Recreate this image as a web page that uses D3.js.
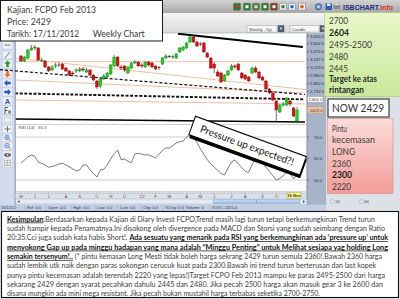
<!DOCTYPE html>
<html>
<head>
<meta charset="utf-8">
<title>FCPO Feb 2013 - Weekly</title>
<script src="https://cdn.jsdelivr.net/npm/d3@7/dist/d3.min.js"></script>
<style>
  html, body { margin: 0; padding: 0; background: #dde1e7; overflow: hidden; }
  svg { display: block; }
</style>
</head>
<body>
<svg id="chart" width="400" height="299"></svg>
<script>
// ---------- data ----------
// Weekly bars, the last one is the week ending 16 Nov 2012
const lastWeek = new Date(2012, 10, 16);

const opens  = [3308,3226,3275,3405,3438,3438,3226,3226,3129,3080,3145,3161,3177,3112,3064,3031,3064,3064,3096,3047,
                3080,2998,2901,2819,2933,2966,3015,3145,3291,3129,3145,3031,3112,3194,3210,3161,3129,3210,3194,3145,
                3110,3177,3275,3300,3291,3275,3373,3405,3438,3535,3617,3535,3503,3519,3356,3275,3177,3047,3031,2901,
                2998,3080,3145,3177,3031,2998,2966,3031,3112,3047,2966,2901,2771,2706,2575,2396,2510,2510,2575,2462,2250];
const highs  = [3324,3308,3421,3487,3487,3454,3275,3243,3145,3161,3194,3194,3194,3129,3080,3064,3112,3129,3129,3112,
                3096,3015,2917,2950,3015,3047,3177,3324,3308,3161,3161,3145,3210,3243,3226,3194,3226,3226,3210,3161,
                3145,3291,3340,3324,3324,3356,3454,3470,3535,3649,3649,3552,3535,3535,3373,3291,3210,3080,3047,3015,
                3080,3177,3177,3194,3047,3015,2982,3129,3145,3064,2982,2917,2787,2738,2592,2527,2559,2641,2592,2478,2478];
const lows   = [3210,3210,3259,3389,3405,3226,3210,3112,3047,3064,3112,3129,3080,3047,2982,2982,3031,3047,3047,3031,
                2982,2901,2771,2787,2917,2950,2998,3129,3129,3080,3047,3015,3096,3177,3129,3112,3112,3145,3112,3080,
                3080,3161,3259,3275,3259,3259,3356,3389,3421,3519,3519,3454,3470,3356,3275,3096,3031,2966,2868,2885,
                2982,3064,3096,3064,2933,2917,2885,3015,3031,2933,2901,2754,2690,2575,2234,2380,2478,2494,2494,2315,2218];
const closes = [3226,3291,3405,3438,3454,3243,3243,3129,3064,3129,3161,3150,3096,3064,2998,3015,3080,3096,3080,3080,
                2998,2917,2803,2933,2982,3031,3161,3291,3145,3112,3080,3129,3194,3210,3145,3145,3210,3161,3129,3096,
                3120,3275,3308,3291,3295,3340,3438,3454,3519,3617,3535,3470,3499,3373,3291,3112,3112,2982,2885,2998,
                3064,3145,3129,3080,2950,2933,2901,3112,3047,2950,2917,2771,2706,2592,2429,2510,2527,2624,2527,2331,2429];
const rsi14  = [45.8,48.5,51.5,53.3,52,46.7,45.4,44,42,42.5,43.6,44.8,45.6,44,42.3,40.2,38.6,39.3,44,44,
                39.5,36,32.8,39.3,40,44,49.5,54.5,57.9,49,49.4,47.5,46,54.2,54.8,54,53.3,53.3,52,50.5,
                54,57.5,59.8,59.8,62,64.5,65.5,66.3,70,71.9,69,65,59,54,49,45,42,39,36,34.7,
                41,46.7,48.6,45,41.5,38,37,44.5,50,48.5,45.8,42,38,34,30,31.5,34,37.4,36,31,35.3];

const priceTicks = [3633, 3504.5, 3376, 3247.5, 3119, 2990.5, 2862, 2733.5];
const rsiTicks   = [70, 50, 30];
const monthLetters = ["J","F","M","A","M","J","J","A","S","O","N","D"];

const lastPrice  = 2429;
const markedLine = 2602;

// drawn studies: [barIndex, price] end points
const topTrend     = [[45.5, 3670], [81.7, 3454]];
const bottomTrend  = [[-1.7, 2283], [82.3, 2234]];
const dashedTrends = [[[-6.1, 3085], [82.3, 2681]]];
const dashedLevel  = [[-1.7, 2700], [82.3, markedLine]];
const fanLines     = [
  [[-1.7, 3215], [82.3, 3215]],
  [[-1.7, 3275], [83.8, 2754]],
  [[-1.7, 2917], [82.3, 2706]],
  [[-1.7, 2592], [82.3, 2527]]
];

const resistanceLevels = ["2700", "2604", "2495-2500", "2480", "2445"];
const supportLevels    = ["2360", "2300", "2220"];

const noteLines = [
  [["b","Kesimpulan"],["n",":Berdasarkan kepada Kajian di Diary Invest FCPO,Trend masih lagi turun tetapi berkemungkinan Trend turun"]],
  [["n","sudah hampir kepada Penamatnya.Ini disokong oleh divergence pada MACD dan Storsi yang sudah seimbang dengan Ratio"]],
  [["n","20:35.Cci juga sudah kata habis Short!. "],["b","Ada sesuatu yang menarik pada RSI yang berkemungkinan ada \u2018pressure up\u2019 untuk"]],
  [["b","menyokong Gap up pada minggu hadapan yang mana adalah \u201cMinggu Penting\u201d untuk Melihat sesiapa yag holding Long"]],
  [["b","semakin tersenyum!.."],["n"," (* pintu kemasan Long Mesti tidak boleh harga sekrang 2429 turun semula 2360!.Bawah 2360 harga"]],
  [["n","sudah lembik utk naik dengan paras sokongan cerucuk kuat pada 2300.Bawah ini trend turun berterusan dan last kopek"]],
  [["n","punya pintu kecemasan adalah terendah 2220 yang lepas!)Target FCPO Feb 2013 mampu ke paras 2495-2500 dari harga"]],
  [["n","sekarang 2429 dengan syarat pecahkan dahulu 2445 dan 2480. Jika pecah 2500 harga akan masuk gear 3 ke 2600 dan"]],
  [["n","disana mungkin ada mini mega resistant. Jika pecah bukan mustahil harga terbabas seketika 2700-2750."]]
];
const noteLineEnds = [375, 385, 388, 388, 382, 376, 385, 383, 320];

const statusItems = [["16/11/12",1],["Ref: 0.0",27],["Open: 0.0",48],["High: 0.0",73],["Low: 0.0",97],
                     ["Last: 0.0",120],["Chg: 0.0",143],["%Chg: 0.0",165],["Volume: 0",186],["TOI/C: 2455.0",212]];

// ---------- helpers ----------
const svg = d3.select("#chart");
const UI = "'Liberation Sans', Arial, sans-serif";
const CAL = "Lato, 'Open Sans', sans-serif";
function fit(sel, w) { return sel.attr("textLength", w).attr("lengthAdjust", "spacingAndGlyphs"); }

const n = closes.length;
const dates = d3.range(n).map(i => d3.timeWeek.offset(lastWeek, i - (n - 1)));

// ---------- scales ----------
const x = d3.scaleLinear().domain([0, n - 1]).range([21, 297]);
const y = d3.scaleLinear().domain([2429, 3633]).range([110, 36]);
const yr = d3.scaleLinear().domain([30, 70]).range([180, 137]);

const defs = svg.append("defs");
function vgrad(id, a, b) {
  const g = defs.append("linearGradient").attr("id", id).attr("x1", 0).attr("y1", 0).attr("x2", 0).attr("y2", 1);
  g.append("stop").attr("offset", "0%").attr("stop-color", a);
  g.append("stop").attr("offset", "100%").attr("stop-color", b);
}
vgrad("topbar", "#d2d2d2", "#a8a8a8");
vgrad("row2", "#f4f4f4", "#dadada");
vgrad("greenbox", "#e9f8cc", "#c9e89a");
vgrad("pinkbox", "#fcdcda", "#f29c98");
vgrad("thumb", "#c9dcf4", "#9dbbe6");
defs.append("clipPath").attr("id", "pclip").append("rect").attr("x", 15.5).attr("y", 33).attr("width", 291.5).attr("height", 91);
defs.append("clipPath").attr("id", "rclip").append("rect").attr("x", 15.5).attr("y", 124.5).attr("width", 291.5).attr("height", 66.5);

// ---------- window chrome ----------
svg.append("rect").attr("width", 400).attr("height", 299).attr("fill", "#dde1e7");
svg.append("rect").attr("x", 0).attr("y", 0).attr("width", 400).attr("height", 13).attr("fill", "url(#topbar)");
svg.append("rect").attr("x", 0).attr("y", 13).attr("width", 400).attr("height", 20).attr("fill", "url(#row2)");

// toolbar icons
const icons = [[237,"#2f7a34","#d32f2f"],[247,"#2f7a34","#ffffff"],[256,"#55803a","#c8e6c9"],[265,"#2f7a34","#ffffff"],
               [274,"#8a3d1f","#ffffff"],[283,"#e6eef8","#2e7d32"],[292,"#e6eef8","#1565c0"],[302,"#e6eef8","#e65100"]];
icons.forEach(([cx, bg, fg]) => {
  svg.append("rect").attr("x", cx - 3.5).attr("y", 3.2).attr("width", 7).attr("height", 7).attr("rx", 1)
    .attr("fill", bg).attr("stroke", "#555").attr("stroke-width", 0.4);
  svg.append("rect").attr("x", cx - 1.5).attr("y", 5.2).attr("width", 3).attr("height", 3).attr("fill", fg);
});
svg.append("circle").attr("cx", 318.5).attr("cy", 6.7).attr("r", 3.2).attr("fill", "#5b8fd6").attr("stroke", "#2a4f8f").attr("stroke-width", 0.6);
svg.append("circle").attr("cx", 318.5).attr("cy", 6.7).attr("r", 1.2).attr("fill", "#e8f0fb");
svg.append("rect").attr("x", 325.5).attr("y", 3.4).attr("width", 6.5).attr("height", 6.6).attr("fill", "#2b5fb8");
svg.append("rect").attr("x", 327).attr("y", 3.6).attr("width", 3.5).attr("height", 2.4).attr("fill", "#e8eef8");
svg.append("rect").attr("x", 333.5).attr("y", 5).attr("width", 6.5).attr("height", 4).attr("fill", "#8a8a8a");
svg.append("rect").attr("x", 335).attr("y", 3.3).attr("width", 3.5).attr("height", 2).attr("fill", "#f4f4f4").attr("stroke", "#777").attr("stroke-width", 0.3);
const logo = svg.append("text").attr("x", 343).attr("y", 9.6).attr("font-family", UI).attr("font-size", 6.4).attr("font-weight", 700);
logo.append("tspan").attr("fill", "#1d2f8a").text("ISBCHART");
logo.append("tspan").attr("fill", "#d8321e").text(".info");
fit(logo, 50);

// period / style selectors
function dropdown(x0, w, label) {
  svg.append("rect").attr("x", x0).attr("y", 25.5).attr("width", w).attr("height", 6.5)
    .attr("fill", "#f7f7f7").attr("stroke", "#a0a0a0").attr("stroke-width", 0.5);
  svg.append("text").attr("x", x0 + 2).attr("y", 30.5).attr("font-family", UI).attr("font-size", 4.2)
    .attr("fill", "#444").text(label);
  svg.append("rect").attr("x", x0 + w + 1).attr("y", 25.5).attr("width", 6).attr("height", 6.5)
    .attr("fill", "#56627a").attr("stroke", "#3a4458").attr("stroke-width", 0.4);
  svg.append("path").attr("d", `M${x0 + w + 2.6},27.8h2.8l-1.4,1.8z`).attr("fill", "#fff");
}
dropdown(247, 30, "Weekly - 5yr");
dropdown(290, 29, "Candle");

// ---------- chart panels ----------
svg.append("rect").attr("x", 15.5).attr("y", 33).attr("width", 291.5).attr("height", 160)
  .attr("fill", "#ffffff").attr("stroke", "#9aa6b8").attr("stroke-width", 0.6);
svg.append("line").attr("x1", 15.5).attr("x2", 307).attr("y1", 124.5).attr("y2", 124.5)
  .attr("stroke", "#c4c4c4").attr("stroke-width", 0.8);

// value axis column
svg.append("rect").attr("x", 307).attr("y", 33).attr("width", 19).attr("height", 172).attr("fill", "#a7b3c7");
svg.append("line").attr("x1", 307).attr("x2", 307).attr("y1", 33).attr("y2", 205).attr("stroke", "#6f7d96").attr("stroke-width", 0.6);

const gPrice = svg.append("g").attr("clip-path", "url(#pclip)");
const line = d3.line().x(d => x(d[0])).y(d => y(d[1]));

fanLines.forEach(l => gPrice.append("path").attr("d", line(l)).attr("fill", "none")
  .attr("stroke", "#e9b99c").attr("stroke-width", 0.9));
gPrice.append("path").attr("d", line(dashedLevel)).attr("fill", "none")
  .attr("stroke", "#111").attr("stroke-width", 1.9).attr("stroke-dasharray", "3,1.6");
gPrice.append("path").attr("d", line(topTrend)).attr("fill", "none").attr("stroke", "#000").attr("stroke-width", 1.9);
gPrice.append("path").attr("d", line(bottomTrend)).attr("fill", "none").attr("stroke", "#000").attr("stroke-width", 1.5);

// candles
const bars = d3.range(n).map(i => ({ i, o: opens[i], h: highs[i], l: lows[i], c: closes[i] }));
const cg = gPrice.selectAll("g.bar").data(bars).join("g").attr("class", "bar");
cg.append("line").attr("x1", d => x(d.i)).attr("x2", d => x(d.i))
  .attr("y1", d => y(d.h)).attr("y2", d => y(d.l)).attr("stroke", "#3a3a3a").attr("stroke-width", 0.7);
cg.each(function (d) {
  const g = d3.select(this);
  const top = y(Math.max(d.o, d.c)), bot = y(Math.min(d.o, d.c));
  if (bot - top < 0.7) {
    g.append("line").attr("x1", x(d.i) - 1.4).attr("x2", x(d.i) + 1.4).attr("y1", top).attr("y2", top)
      .attr("stroke", "#222").attr("stroke-width", 0.8);
  } else {
    const up = d.c > d.o;
    g.append("rect").attr("x", x(d.i) - 1.35).attr("y", top).attr("width", 2.7).attr("height", bot - top)
      .attr("fill", up ? "#1fd11f" : "#e10c0c").attr("stroke", up ? "#0f8a12" : "#8f0a0a").attr("stroke-width", 0.4);
  }
});

// the long dashed trend runs across the tool strip as well
const dashClip = defs.append("clipPath").attr("id", "dclip");
dashClip.append("rect").attr("x", 0).attr("y", 33).attr("width", 307).attr("height", 91);
dashedTrends.forEach(l => svg.append("path").attr("clip-path", "url(#dclip)").attr("d", line(l)).attr("fill", "none")
  .attr("stroke", "#111").attr("stroke-width", 1.2).attr("stroke-dasharray", "3,2"));

// price axis labels
priceTicks.forEach(v => {
  svg.append("line").attr("x1", 307).attr("x2", 309).attr("y1", y(v)).attr("y2", y(v)).attr("stroke", "#2a3550").attr("stroke-width", 0.5);
  svg.append("text").attr("x", 324).attr("y", y(v) + 1.5).attr("text-anchor", "end")
    .attr("font-family", UI).attr("font-size", 4.2).attr("fill", "#25304a").text(d3.format(",.1f")(v));
});
svg.append("rect").attr("x", 307.5).attr("y", y(markedLine) - 3).attr("width", 16).attr("height", 6)
  .attr("fill", "#ffffff").attr("stroke", "#7a7a7a").attr("stroke-width", 0.4);
svg.append("text").attr("x", 322.5).attr("y", y(markedLine) + 1.5).attr("text-anchor", "end")
  .attr("font-family", UI).attr("font-size", 4.2).attr("fill", "#333").text(d3.format(",.1f")(markedLine));
svg.append("rect").attr("x", 307.5).attr("y", y(lastPrice) - 3).attr("width", 16).attr("height", 6)
  .attr("fill", "#f6c6a4").attr("stroke", "#c98660").attr("stroke-width", 0.4);
svg.append("text").attr("x", 322.5).attr("y", y(lastPrice) + 1.5).attr("text-anchor", "end")
  .attr("font-family", UI).attr("font-size", 4.2).attr("fill", "#333").text(lastPrice.toFixed(1));

// ---------- RSI panel ----------
const gRsi = svg.append("g").attr("clip-path", "url(#rclip)");
[70, 30].forEach(v => gRsi.append("line").attr("x1", 15.5).attr("x2", 307).attr("y1", yr(v)).attr("y2", yr(v))
  .attr("stroke", "#cdcdcd").attr("stroke-width", 1.2));
gRsi.append("path").datum(rsi14).attr("fill", "none").attr("stroke", "#575757").attr("stroke-width", 0.8)
  .attr("d", d3.line().x((d, i) => x(i)).y(d => yr(d)));
svg.append("text").attr("x", 18.5).attr("y", 129).attr("font-family", UI).attr("font-size", 4.3).attr("fill", "#444").text("RSI (14)");
svg.append("text").attr("x", 38).attr("y", 129).attr("font-family", UI).attr("font-size", 4.3).attr("fill", "#444")
  .text(rsi14[n - 1].toFixed(1));
rsiTicks.forEach(v => {
  svg.append("line").attr("x1", 307).attr("x2", 309).attr("y1", yr(v)).attr("y2", yr(v)).attr("stroke", "#2a3550").attr("stroke-width", 0.5);
  svg.append("text").attr("x", 322).attr("y", yr(v) + 1.5).attr("text-anchor", "end")
    .attr("font-family", UI).attr("font-size", 4.2).attr("fill", "#25304a").text(v.toFixed(1));
});

// ---------- time axis ----------
svg.append("line").attr("x1", 15.5).attr("x2", 307).attr("y1", 191.5).attr("y2", 191.5).attr("stroke", "#b0b0b0").attr("stroke-width", 0.5);
const dateBoxX = 287;
dates.forEach((d, i) => {
  const first = i === 0 || d.getMonth() !== dates[i - 1].getMonth();
  svg.append("line").attr("x1", x(i)).attr("x2", x(i)).attr("y1", 191.5).attr("y2", first ? 194.5 : 193)
    .attr("stroke", first && d.getMonth() === 0 ? "#d04040" : "#888").attr("stroke-width", 0.4);
  if (first && x(i) < dateBoxX - 3) {
    const lab = d.getMonth() === 0 ? "'" + String(d.getFullYear()).slice(2) : monthLetters[d.getMonth()];
    svg.append("text").attr("x", x(i)).attr("y", 198).attr("text-anchor", "middle")
      .attr("font-family", UI).attr("font-size", 4.3).attr("fill", "#555").text(lab);
  }
});
svg.append("rect").attr("x", dateBoxX).attr("y", 192.5).attr("width", 14).attr("height", 6)
  .attr("fill", "#fbf58a").attr("stroke", "#a89c40").attr("stroke-width", 0.4);
svg.append("text").attr("x", dateBoxX + 7).attr("y", 197.2).attr("text-anchor", "middle").attr("font-family", UI)
  .attr("font-size", 4.2).attr("font-weight", 700).attr("fill", "#333").text(d3.timeFormat("%-d %b")(lastWeek));

// scrollbar
svg.append("rect").attr("x", 15.5).attr("y", 199).attr("width", 291.5).attr("height", 5)
  .attr("fill", "#e6ebf3").attr("stroke", "#9aa6b8").attr("stroke-width", 0.4);
svg.append("rect").attr("x", 213).attr("y", 199.5).attr("width", 87).attr("height", 4).attr("rx", 1)
  .attr("fill", "url(#thumb)").attr("stroke", "#7d9ccc").attr("stroke-width", 0.4);
svg.append("line").attr("x1", 256.5).attr("x2", 256.5).attr("y1", 200.3).attr("y2", 202.8).attr("stroke", "#5a7fb8").attr("stroke-width", 0.6);
svg.append("path").attr("d", "M19.5,200.2v2.8l-2,-1.4z").attr("fill", "#444");
svg.append("path").attr("d", "M303,200.2v2.8l2,-1.4z").attr("fill", "#444");

// status bar
svg.append("rect").attr("x", 0).attr("y", 204.5).attr("width", 326).attr("height", 6.5).attr("fill", "#c2cee2");
statusItems.forEach(([t, px]) => {
  svg.append("text").attr("x", px).attr("y", 209.4).attr("font-family", UI).attr("font-size", 4).attr("fill", "#2d3550").text(t);
  svg.append("line").attr("x1", px - 2).attr("x2", px - 2).attr("y1", 205).attr("y2", 210.5).attr("stroke", "#8c9ab5").attr("stroke-width", 0.4);
});

// ---------- drawing toolbar ----------
svg.insert("rect", "path[clip-path='url(#dclip)']").attr("x", 0).attr("y", 41).attr("width", 15).attr("height", 164).attr("fill", "#d2dcec");
svg.append("line").attr("x1", 15).attr("x2", 15).attr("y1", 41).attr("y2", 205).attr("stroke", "#7f97c4").attr("stroke-width", 0.8);
const tools = [45, 55, 64, 74, 83, 92, 101, 110, 120, 129, 138, 146, 155, 163];
const T = svg.append("g");
tools.forEach(cy => T.append("rect").attr("x", 2.5).attr("y", cy - 4).attr("width", 10).attr("height", 8)
  .attr("fill", "#eef2f8").attr("stroke", "#b3c0d6").attr("stroke-width", 0.4));
T.append("line").attr("x1", 4.5).attr("x2", 10.5).attr("y1", 45).attr("y2", 45).attr("stroke", "#555").attr("stroke-width", 0.8);
T.append("line").attr("x1", 5).attr("x2", 10).attr("y1", 58).attr("y2", 52).attr("stroke", "#555").attr("stroke-width", 0.8);
T.append("path").attr("d", "M7.5,60.5l3.3,3.2h-2v3.3h-2.6v-3.3h-2z").attr("fill", "#2c9b2c");
T.append("path").attr("d", "M7.5,77.5l3.3,-3.2h-2v-3.3h-2.6v3.3h-2z").attr("fill", "#e2701c");
T.append("path").attr("d", "M4,83l3.2,-3.2v2h3.5v2.4h-3.5v2z").attr("fill", "#2356c8");
T.append("path").attr("d", "M11,92l-3.2,-3.2v2h-3.5v2.4h3.5v2z").attr("fill", "#2356c8");
T.append("text").attr("x", 7.5).attr("y", 104).attr("text-anchor", "middle").attr("font-family", UI)
  .attr("font-size", 7.5).attr("font-weight", 700).attr("fill", "#2356c8").text("A");
T.append("path").attr("d", "M5,114v-6.5h3M5,110.5h2.5").attr("fill", "none").attr("stroke", "#333").attr("stroke-width", 0.8);
T.append("rect").attr("x", 8.3).attr("y", 110.5).attr("width", 2.5).attr("height", 3).attr("fill", "#777");
T.append("rect").attr("x", 4.5).attr("y", 117.5).attr("width", 6).attr("height", 5).attr("fill", "none")
  .attr("stroke", "#777").attr("stroke-width", 0.5).attr("stroke-dasharray", "0.8,0.8");
T.append("path").attr("d", "M7.5,126v6M4.5,129h6").attr("stroke", "#555").attr("stroke-width", 0.8);
[[138, true], [146, false]].forEach(([cy, plus]) => {
  T.append("circle").attr("cx", 7).attr("cy", cy - 0.5).attr("r", 2.3).attr("fill", "#cfe3fb").attr("stroke", "#2356a8").attr("stroke-width", 0.6);
  T.append("line").attr("x1", 8.6).attr("x2", 10.8).attr("y1", cy + 1.1).attr("y2", cy + 3.2).attr("stroke", "#c47a18").attr("stroke-width", 1);
  T.append("path").attr("d", plus ? `M5.8,${cy - 0.5}h2.4M7,${cy - 1.7}v2.4` : `M5.8,${cy - 0.5}h2.4`).attr("stroke", "#2356a8").attr("stroke-width", 0.5);
});
T.append("ellipse").attr("cx", 7.5).attr("cy", 155).attr("rx", 3.4).attr("ry", 1.9).attr("fill", "#666");
T.append("circle").attr("cx", 7.5).attr("cy", 155).attr("r", 0.9).attr("fill", "#ddd");
T.append("path").attr("d", "M4.5,160.5h6v5h-6zM7.5,160.5v5M4.5,163h6").attr("fill", "none").attr("stroke", "#888").attr("stroke-width", 0.5);
// annotation lines sit on top of the tool strip
svg.selectAll("path[clip-path='url(#dclip)']").raise();

// ---------- header note ----------
svg.append("rect").attr("x", 0.5).attr("y", 0.5).attr("width", 162).attr("height", 40.5)
  .attr("fill", "#ffffff").attr("stroke", "#1a1a1a").attr("stroke-width", 1);
function noteText(t, px, py, w, size, weight, color) {
  return fit(svg.append("text").attr("x", px).attr("y", py).attr("font-family", CAL).attr("font-size", size)
    .attr("font-weight", weight || 400).attr("fill", color || "#3b3b3b").text(t), w);
}
noteText("Kajian: FCPO Feb 2013", 7, 12.5, 89, 10.2);
noteText("Price: " + lastPrice, 7, 25, 44, 10.2);
noteText("Tarikh: 17/11/2012", 7, 36.7, 72, 10.2);
noteText("Weekly Chart", 92.7, 36.7, 52, 10.2);

// ---------- level boxes ----------
svg.append("rect").attr("x", 324.5).attr("y", 12.7).attr("width", 76).attr("height", 84)
  .attr("fill", "url(#greenbox)").attr("stroke", "#a9c77a").attr("stroke-width", 0.6);
const resW = [19, 20, 43, 19, 19];
const resY = [24, 36, 48, 60, 71.5];
resistanceLevels.forEach((t, k) => noteText(t, 329, resY[k], resW[k], 10, k === 1 ? 700 : 400, k === 1 ? "#1e1e1e" : "#3b3b3b"));
noteText("Target ke atas", 329, 82, 48, 8.6, 700, "#2a2a2a");
noteText("rintangan", 329, 93, 35, 8.6, 700, "#2a2a2a");

svg.append("rect").attr("x", 328).attr("y", 99).attr("width", 61).attr("height", 18)
  .attr("fill", "#ffffff").attr("stroke", "#1a1a1a").attr("stroke-width", 1);
noteText("NOW " + lastPrice, 332, 111.5, 52, 10.5, 400, "#333");

svg.append("rect").attr("x", 327.5).attr("y", 118.5).attr("width", 65.5).attr("height", 75)
  .attr("fill", "url(#pinkbox)").attr("stroke", "#d88b88").attr("stroke-width", 0.6);
noteText("Pintu", 332, 131.5, 15, 10);
noteText("kecemasan", 332, 142.5, 43, 10);
noteText("LONG", 332, 154.5, 23, 10);
const supY = [166.5, 178, 189.5];
supportLevels.forEach((t, k) => noteText(t, 332, supY[k], k === 1 ? 20 : 19, 10, k === 1 ? 700 : 400, k === 1 ? "#1e1e1e" : "#3b3b3b"));

[[331, "50"], [360, "60"]].forEach(([px, t]) => {
  svg.append("rect").attr("x", px).attr("y", 200).attr("width", 3).attr("height", 3)
    .attr("fill", "#fff").attr("stroke", "#5a78b0").attr("stroke-width", 0.4);
  svg.append("text").attr("x", px + 4.5).attr("y", 203).attr("font-family", UI).attr("font-size", 4).attr("fill", "#444").text(t);
});

// ---------- callout ----------
const callout = svg.append("g").attr("transform", "translate(248,146) rotate(20)");
callout.append("rect").attr("x", -58).attr("y", -7.5).attr("width", 118).attr("height", 20).attr("fill", "#000");
callout.append("rect").attr("x", -59.5).attr("y", -10).attr("width", 118).attr("height", 19.5)
  .attr("fill", "#ffffff").attr("stroke", "#000").attr("stroke-width", 1);
fit(callout.append("text").attr("x", -1).attr("y", 3.3).attr("text-anchor", "middle").attr("font-family", CAL)
  .attr("font-size", 10.3).attr("fill", "#111").text("Pressure up expected?!"), 99);

// ---------- commentary ----------
svg.append("rect").attr("x", 1.5).attr("y", 211.5).attr("width", 397).attr("height", 86)
  .attr("fill", "#ffffff").attr("stroke", "#111").attr("stroke-width", 1.1);
noteLines.forEach((segs, k) => {
  const t = svg.append("text").attr("x", 7).attr("y", 221.5 + k * 9.36).attr("font-family", CAL)
    .attr("font-size", 7.0).attr("fill", "#3c3c3c");
  segs.forEach(([kind, s]) => {
    const ts = t.append("tspan").text(s);
    if (kind === "b") ts.attr("font-weight", 700).attr("fill", "#111").style("text-decoration", "underline");
  });
  fit(t, noteLineEnds[k] - 7);
});
</script>
</body>
</html>
